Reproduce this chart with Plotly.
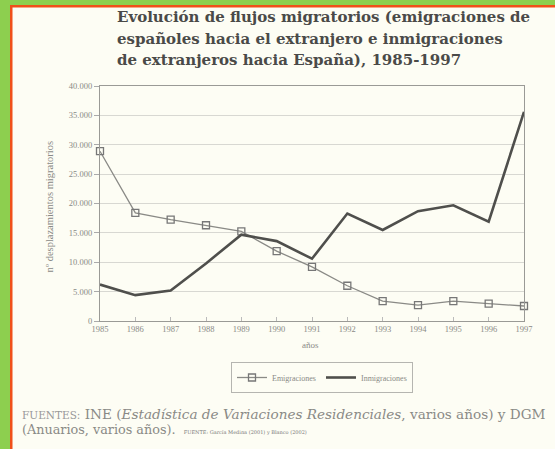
import plotly.graph_objects as go

years = [1985, 1986, 1987, 1988, 1989, 1990, 1991, 1992, 1993, 1994, 1995, 1996, 1997]
emigraciones = [28900, 18400, 17250, 16300, 15250, 11900, 9200, 6000, 3400, 2700, 3400, 2950, 2550]
inmigraciones = [6200, 4400, 5200, 9800, 14700, 13600, 10600, 18300, 15500, 18700, 19700, 16900, 35600]
y_ticks = [0, 5000, 10000, 15000, 20000, 25000, 30000, 35000, 40000]
y_ticktext = ["0", "5.000", "10.000", "15.000", "20.000", "25.000", "30.000", "35.000", "40.000"]

title_lines = [
    "Evolución de flujos migratorios (emigraciones de",
    "españoles hacia el extranjero e inmigraciones",
    "de extranjeros hacia España), 1985-1997",
]

W, H = 555, 449
L, R, T, B = 100, 524, 86, 321  # plot area in pixels


def px(x):
    return (x - L) / (R - L)


def py(y):
    return (B - y) / (B - T)


fig = go.Figure()
fig.add_trace(go.Scatter(
    x=years, y=emigraciones, name="Emigraciones", mode="lines+markers",
    line=dict(color="#8a8a86", width=1.3),
    marker=dict(symbol="square-open", size=7, color="#777", line=dict(width=1.3, color="#777")),
    cliponaxis=False,
))
fig.add_trace(go.Scatter(
    x=years, y=inmigraciones, name="Inmigraciones", mode="lines",
    line=dict(color="#4f4f4c", width=2.6),
    cliponaxis=False,
))

serif = "Liberation Serif, Times New Roman, serif"
wide_serif = "DejaVu Serif, serif"

shapes = [
    dict(type="rect", xref="paper", yref="paper", x0=px(0), x1=px(10), y0=py(H), y1=py(0),
         fillcolor="#8dcf4f", line=dict(width=0), layer="below"),
    dict(type="rect", xref="paper", yref="paper", x0=px(0), x1=px(W), y0=py(5), y1=py(0),
         fillcolor="#8dcf4f", line=dict(width=0), layer="below"),
    dict(type="rect", xref="paper", yref="paper", x0=px(10), x1=px(12.5), y0=py(H), y1=py(5),
         fillcolor="#f0501a", line=dict(width=0), layer="below"),
    dict(type="rect", xref="paper", yref="paper", x0=px(10), x1=px(W), y0=py(7.5), y1=py(5),
         fillcolor="#f0501a", line=dict(width=0), layer="below"),
]

annotations = []
for i, line in enumerate(title_lines):
    annotations.append(dict(
        text="<b>" + line + "</b>", xref="paper", yref="paper",
        x=px(115), y=py(17 + 21.5 * i), xanchor="left", yanchor="middle",
        showarrow=False, font=dict(family=wide_serif, size=15, color="#4a4a48")))

annotations += [
    dict(text="nº desplazamientos migratorios", xref="paper", yref="paper",
         x=px(41), y=py(207), textangle=-90, showarrow=False,
         font=dict(family=serif, size=10.5, color="#8a8a86")),
    dict(text="años", xref="paper", yref="paper", x=px(310), y=py(352), showarrow=False,
         font=dict(family=serif, size=9, color="#8a8a86")),
    dict(text="<span style='font-size:10.5px;color:#999'>FUENTES:</span> INE (<i>Estadística de Variaciones Residenciales</i>, varios años) y DGM",
         xref="paper", yref="paper", x=px(20), y=py(414), xanchor="left", yanchor="middle",
         showarrow=False, font=dict(family=wide_serif, size=13.6, color="#8a8a86")),
    dict(text="(Anuarios, varios años).  <span style='font-size:5px;color:#777'>FUENTE: García Medina (2001) y Blanco (2002)</span>",
         xref="paper", yref="paper", x=px(20), y=py(429), xanchor="left", yanchor="middle",
         showarrow=False, font=dict(family=wide_serif, size=12.8, color="#8a8a86")),
]

fig.update_layout(
    width=W, height=H,
    margin=dict(l=L, r=W - R, t=T, b=H - B, pad=0),
    paper_bgcolor="#fdfdf4", plot_bgcolor="#fdfdf4",
    xaxis=dict(
        range=[1985, 1997], tickvals=years, ticktext=[str(y) for y in years],
        showgrid=False, zeroline=False, showline=True, linecolor="#9a9a96", linewidth=1.2,
        mirror=True, ticks="inside", ticklen=4, tickcolor="#bbb",
        tickfont=dict(family=serif, size=8.5, color="#8a8a86"),
    ),
    yaxis=dict(
        range=[0, 40000], tickvals=y_ticks, ticktext=y_ticktext,
        showgrid=True, gridcolor="#d8d8d2", gridwidth=1, zeroline=False,
        showline=True, linecolor="#9a9a96", linewidth=1.2, mirror=True,
        ticks="outside", ticklen=5, tickcolor="#aaa",
        tickfont=dict(family=serif, size=8.5, color="#8a8a86"),
    ),
    legend=dict(
        orientation="h", x=px(322), xanchor="center", y=py(362), yanchor="top",
        bordercolor="#b5b5b0", borderwidth=1, bgcolor="rgba(0,0,0,0)",
        font=dict(family=serif, size=8, color="#8a8a86"),
        itemwidth=30, tracegroupgap=0,
    ),
    showlegend=True,
    shapes=shapes,
    annotations=annotations,
)

fig.write_html("out.html", config={"displayModeBar": False},
               post_script="document.body.style.margin='0';")
